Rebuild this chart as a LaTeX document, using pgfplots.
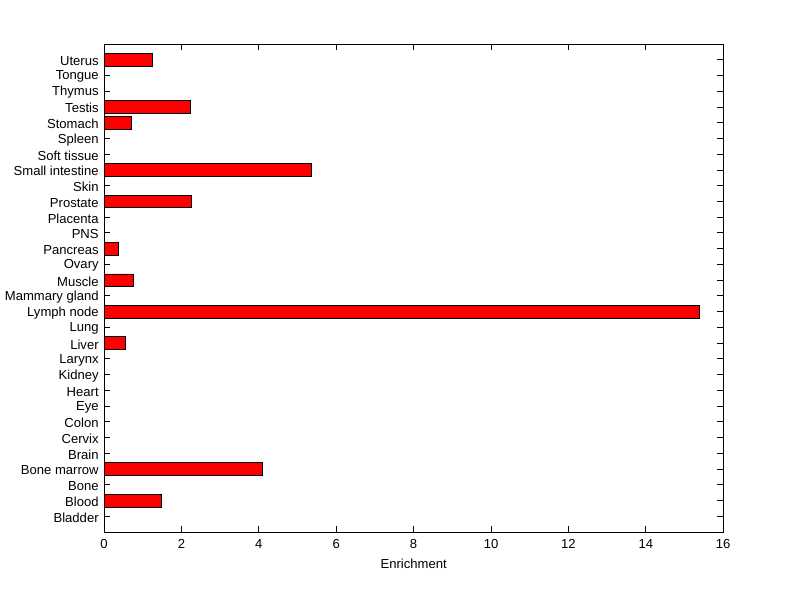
\documentclass[border=0pt]{standalone}
\usepackage{fontspec}
\setmainfont{Liberation Sans}
\usepackage{pgfplots}
\pgfplotsset{compat=1.18}

\pgfplotstableread{
pos value
1  0
2  1.49
3  0
4  4.10
5  0
6  0
7  0
8  0
9  0
10 0
11 0
12 0.56
13 0
14 15.38
15 0
16 0.75
17 0
18 0.36
19 0
20 0
21 2.25
22 0
23 5.36
24 0
25 0
26 0.70
27 2.22
28 0
29 0
30 1.24
}\enrich

\begin{document}
\begin{tikzpicture}
\begin{axis}[
    scale only axis,
    width=464.25pt, height=366pt,
    xbar, bar width=0.8,
    xmin=0, xmax=16, ymin=0, ymax=31,
    xtick={0,2,...,16},
    ytick={1,...,30},
    yticklabels={Bladder,Blood,Bone,Bone marrow,Brain,Cervix,Colon,Eye,Heart,Kidney,Larynx,Liver,Lung,Lymph node,Mammary gland,Muscle,Ovary,Pancreas,PNS,Placenta,Prostate,Skin,Small intestine,Soft tissue,Spleen,Stomach,Testis,Thymus,Tongue,Uterus},
    tick align=inside,
    major tick length=4.5pt,
    tick style={black, line width=0.6pt},
    axis line style={line width=0.6pt},
    xlabel={Enrichment},
    xlabel style={yshift=-1pt},
    ticklabel style={font=\fontsize{9.8}{11}\selectfont},
    label style={font=\fontsize{9.8}{11}\selectfont},
    yticklabel style={xshift=-0.5pt, yshift=-1pt},
    xticklabel style={yshift=-2pt},
    /pgf/number format/assume math mode=true,
    clip=false,
]
\addplot[fill=red, draw=black, line width=0.5pt] table[x=value, y=pos] {\enrich};
\path (rel axis cs:-0.168,-0.137) rectangle (rel axis cs:1.124,1.090);
\end{axis}
\end{tikzpicture}
\end{document}
